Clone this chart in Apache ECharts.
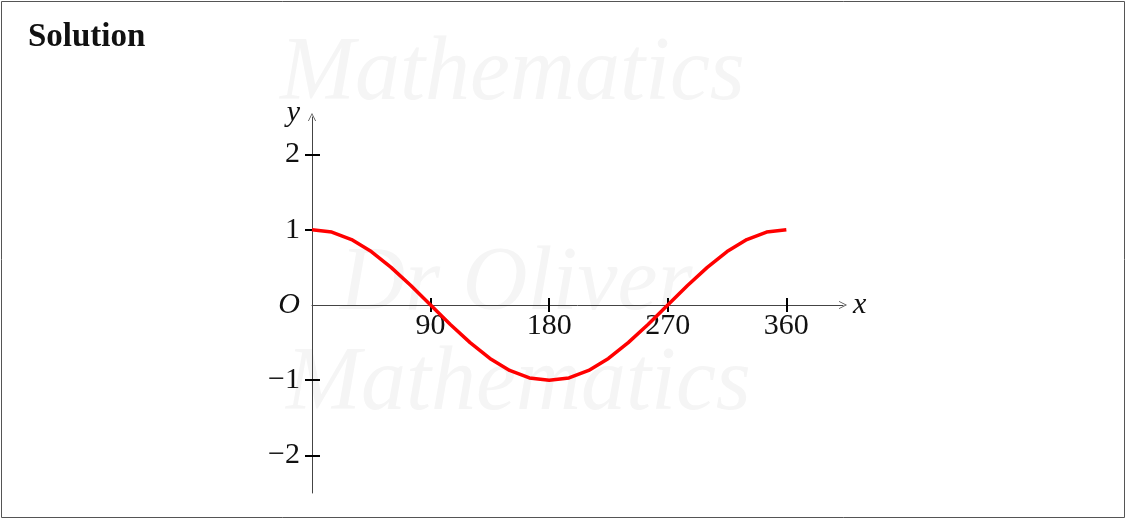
<!DOCTYPE html>
<html>
<head>
<meta charset="utf-8">
<script src="https://cdn.jsdelivr.net/npm/echarts@6/dist/echarts.min.js"></script>
<style>
html,body{margin:0;padding:0;background:#fff;}
#chart{width:1127px;height:519px;}
</style>
</head>
<body>
<div id="chart"></div>
<script>
const xValues = [0,15,30,45,60,75,90,105,120,135,150,165,180,195,210,225,240,255,270,285,300,315,330,345,360];
const yValues = [1,0.97,0.87,0.71,0.5,0.26,0,-0.26,-0.5,-0.71,-0.87,-0.97,-1,-0.97,-0.87,-0.71,-0.5,-0.26,0,0.26,0.5,0.71,0.87,0.97,1];
const xTicks = [90,180,270,360];
const yTicks = [-2,-1,0,1,2];
const yTickMarks = [-2,-1,1,2];
const titleText = 'Solution';
const watermarks = ['Mathematics','Dr Oliver','Mathematics'];

const serif = '"Liberation Serif", "DejaVu Serif", serif';
const axisColor = '#444';
const arrow = 'path://M0,10 L5,0 L10,10 L9,10 L5,2 L1,10 Z';

const chart = echarts.init(document.getElementById('chart'), null, {renderer:'canvas'});

const xBase = {
  type:'value', min:0, max:403, position:'bottom',
  splitLine:{show:false}
};
const yBase = {
  type:'value', min:-2.5, max:2.5, position:'left',
  splitLine:{show:false}
};

const option = {
  backgroundColor:'#fff',
  animation:false,
  grid:{left:312, right:284, top:117, bottom:26, containLabel:false, outerBoundsMode:'none'},
  graphic:[
    {type:'rect', z:100, silent:true, shape:{x:1.5,y:1.5,width:1123,height:516}, style:{fill:'none', stroke:'#555', lineWidth:1}},
    {type:'text', z:0, left:28, top:21, style:{text:titleText, font:'bold 33px '+serif, fill:'#111'}},
    {type:'text', z:0, left:280, top:30, style:{text:watermarks[0], font:'italic 90px '+serif, fill:'#f5f5f5'}},
    {type:'text', z:0, left:340, top:240, style:{text:watermarks[1], font:'italic 90px '+serif, fill:'#f5f5f5'}},
    {type:'text', z:0, left:286, top:340, style:{text:watermarks[2], font:'italic 90px '+serif, fill:'#f5f5f5'}}
  ],
  xAxis:[
    Object.assign({}, xBase, {
      name:'x', nameLocation:'end', nameGap:10,
      nameTextStyle:{fontFamily:serif, fontStyle:'italic', fontSize:30, color:'#111', align:'left', verticalAlign:'middle', padding:[0,0,6,0]},
      axisLine:{show:true, onZero:true, lineStyle:{color:axisColor, width:1}, symbol:['none', arrow], symbolSize:[10,8]},
      axisTick:{show:true, inside:false, length:7, customValues:xTicks, lineStyle:{color:'#000', width:2}},
      axisLabel:{show:false}
    }),
    Object.assign({}, xBase, {
      axisLine:{show:false, onZero:true},
      axisTick:{show:true, inside:true, length:7, customValues:xTicks, lineStyle:{color:'#000', width:2}},
      axisLabel:{show:false}
    })
  ],
  yAxis:[
    Object.assign({}, yBase, {
      name:'y', nameLocation:'end', nameGap:4,
      nameTextStyle:{fontFamily:serif, fontStyle:'italic', fontSize:30, color:'#111', align:'right', verticalAlign:'middle', padding:[0,12,6,0]},
      axisLine:{show:true, onZero:true, lineStyle:{color:axisColor, width:1}, symbol:['none', arrow], symbolSize:[10,8]},
      axisTick:{show:true, inside:false, length:7, customValues:yTickMarks, lineStyle:{color:'#000', width:2}},
      axisLabel:{show:true, customValues:yTicks, margin:12, fontFamily:serif, fontSize:30, color:'#111',
        formatter:function(v){ if(v===0) return '{o|O}'; return v<0 ? '\u2212'+Math.abs(v) : String(v); },
        rich:{o:{fontFamily:serif, fontStyle:'italic', fontSize:30, color:'#111'}}
      }
    }),
    Object.assign({}, yBase, {
      axisLine:{show:false, onZero:true},
      axisTick:{show:true, inside:true, length:8, customValues:yTickMarks, lineStyle:{color:'#000', width:2}},
      axisLabel:{show:false}
    })
  ],
  series:[{
    type:'line',
    xAxisIndex:0, yAxisIndex:0,
    data:xValues.map((x,i)=>[x, yValues[i]]),
    showSymbol:false, symbol:'none',
    lineStyle:{color:'#ff0000', width:3.5},
    z:5
  },{
    // x tick labels placed on the zero line through the axis scale
    type:'scatter',
    xAxisIndex:0, yAxisIndex:0,
    data:xTicks.map(x=>[x,0]),
    symbolSize:2,
    itemStyle:{color:'rgba(0,0,0,0)', opacity:1},
    silent:true,
    z:3,
    label:{show:true, position:'bottom', distance:5, opacity:1, formatter:function(p){return String(p.value[0]);},
      fontFamily:serif, fontSize:30, color:'#111', textBorderWidth:0}
  }]
};
chart.setOption(option);
</script>
</body>
</html>
